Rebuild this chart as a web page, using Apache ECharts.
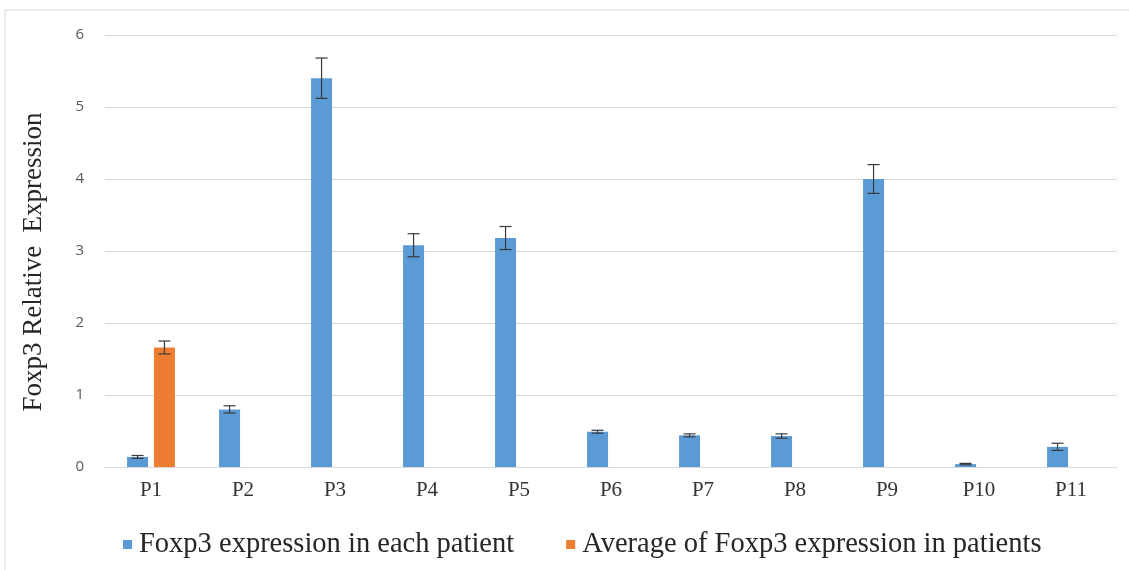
<!DOCTYPE html>
<html>
<head>
<meta charset="utf-8">
<script src="https://cdn.jsdelivr.net/npm/echarts@6/dist/echarts.min.js"></script>
<style>
  html, body { margin: 0; padding: 0; background: #fff; }
  #main { width: 1129px; height: 570px; }
</style>
</head>
<body>
<div id="main"></div>
<script>
// categories
var patients = ['P1', 'P2', 'P3', 'P4', 'P5', 'P6', 'P7', 'P8', 'P9', 'P10', 'P11'];
// each patient
var eachVals = [0.14, 0.80, 5.40, 3.08, 3.18, 0.49, 0.44, 0.43, 4.00, 0.04, 0.28];
var eachErrs = [0.02, 0.05, 0.28, 0.16, 0.16, 0.02, 0.02, 0.03, 0.20, 0.01, 0.05];
// average (only shown at P1)
var avgVals = [1.66, null, null, null, null, null, null, null, null, null, null];
var avgErrs = [0.09, null, null, null, null, null, null, null, null, null, null];
var yTicks = [0, 1, 2, 3, 4, 5, 6];

var barW = 21;
var gapPct = 0.28;
var shift = (barW + barW * gapPct) / 2;

function errData(vals, errs) {
  var out = [];
  vals.forEach(function (v, i) {
    if (v != null) out.push([i, v, errs[i]]);
  });
  return out;
}

function errSeries(name, vals, errs, offset) {
  return {
    name: name,
    type: 'custom',
    z: 10,
    silent: true,
    data: errData(vals, errs),
    renderItem: function (params, api) {
      var i = api.value(0), v = api.value(1), e = api.value(2);
      var top = api.coord([i, v + e]);
      var bot = api.coord([i, v - e]);
      var x = top[0] + offset;
      var half = 6;
      var st = { stroke: '#3a3a3a', lineWidth: 1.2 };
      return {
        type: 'group',
        children: [
          { type: 'line', shape: { x1: x, y1: top[1], x2: x, y2: bot[1] }, style: st },
          { type: 'line', shape: { x1: x - half, y1: top[1], x2: x + half, y2: top[1] }, style: st },
          { type: 'line', shape: { x1: x - half, y1: bot[1], x2: x + half, y2: bot[1] }, style: st }
        ]
      };
    }
  };
}

var chart = echarts.init(document.getElementById('main'));
var option = {
  animation: false,
  graphic: [{
    type: 'rect',
    shape: { x: 5, y: 10, width: 1140, height: 580 },
    style: { fill: 'none', stroke: '#d9d9d9', lineWidth: 1 },
    silent: true
  }],
  grid: { left: 105, right: 12, top: 35, bottom: 103 },
  legend: {
    data: ['Foxp3 expression in each patient', 'Average of Foxp3 expression in patients'],
    left: 118,
    top: 525,
    icon: 'rect',
    itemWidth: 9,
    itemHeight: 9,
    itemGap: 52,
    textStyle: { fontFamily: 'Liberation Serif', fontSize: 28.5, color: '#262626', padding: [0, 0, 0, 2] }
  },
  xAxis: {
    type: 'category',
    data: patients,
    axisTick: { show: false },
    axisLine: { lineStyle: { color: '#d9d9d9' } },
    axisLabel: { fontFamily: 'Liberation Serif', fontSize: 21, color: '#333', margin: 13 }
  },
  yAxis: {
    type: 'value',
    min: yTicks[0],
    max: yTicks[yTicks.length - 1],
    interval: 1,
    name: 'Foxp3 Relative  Expression',
    nameLocation: 'middle',
    nameGap: 58,
    nameTextStyle: { fontFamily: 'Liberation Serif', fontSize: 27, color: '#262626', padding: [0, 0, 0, -22] },
    axisLine: { show: false },
    axisTick: { show: false },
    splitLine: { lineStyle: { color: '#d9d9d9' } },
    axisLabel: { fontFamily: 'Open Sans', fontSize: 15, color: '#595959', margin: 21 }
  },
  series: [
    {
      name: 'Foxp3 expression in each patient',
      type: 'bar',
      data: eachVals,
      barWidth: barW,
      barGap: (gapPct * 100) + '%',
      itemStyle: { color: '#5b9bd5' }
    },
    {
      name: 'Average of Foxp3 expression in patients',
      type: 'bar',
      data: avgVals,
      barWidth: barW,
      itemStyle: { color: '#ed7d31' }
    },
    errSeries('errEach', eachVals, eachErrs, -shift),
    errSeries('errAvg', avgVals, avgErrs, shift)
  ]
};
chart.setOption(option);
</script>
</body>
</html>
